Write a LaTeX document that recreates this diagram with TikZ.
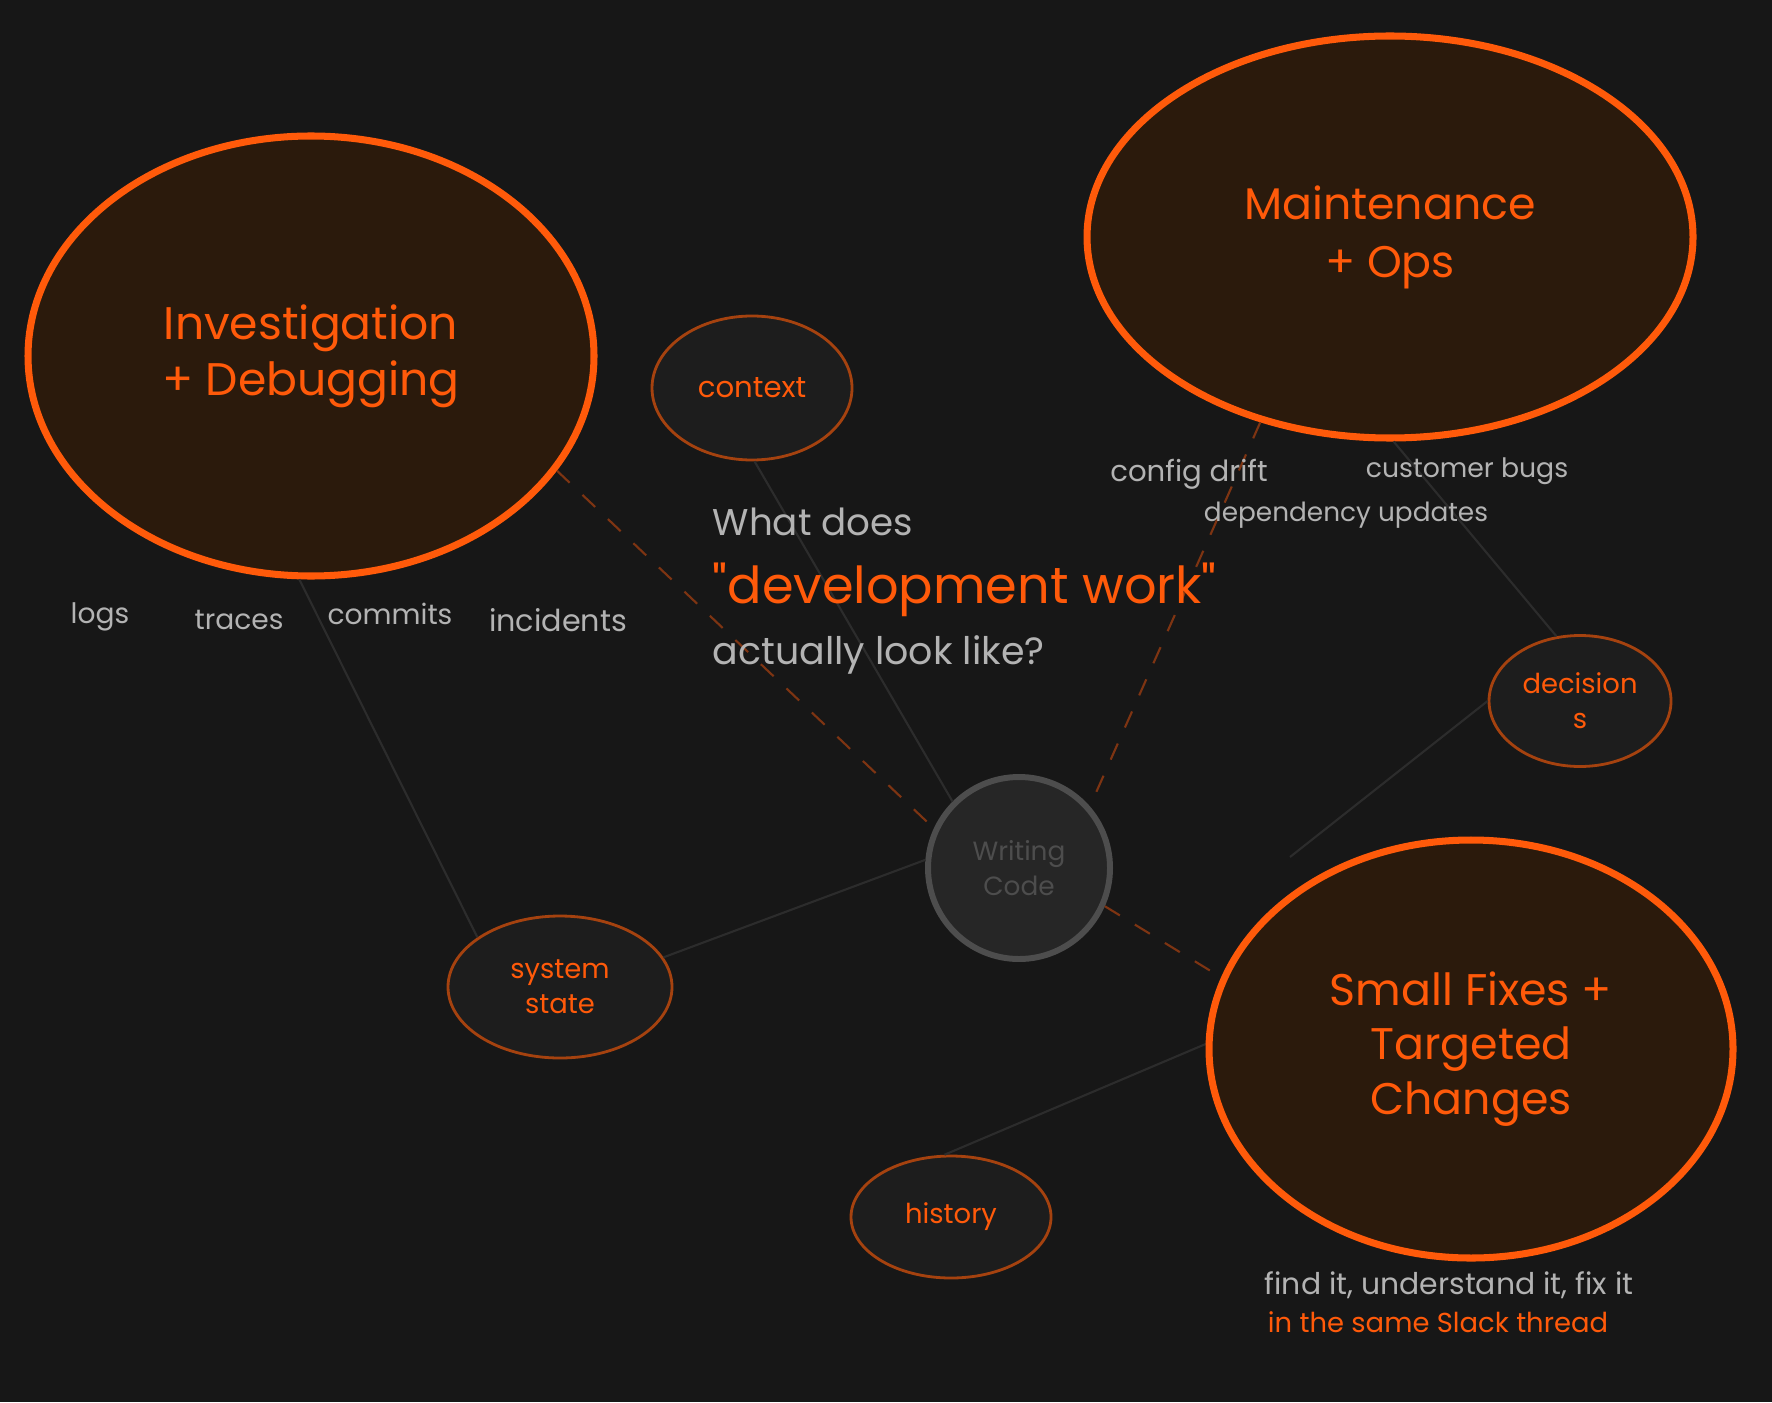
\documentclass[tikz,border=0pt]{standalone}
\usepackage{fontspec}
\setmainfont{Poppins}
\newfontfamily\rawpop{Poppins}
\usetikzlibrary{shapes.geometric}

\definecolor{night}{HTML}{171717}
\definecolor{flame}{HTML}{FF5A0A}
\definecolor{ember}{HTML}{2B1A0C}
\definecolor{rust}{HTML}{A5420F}
\definecolor{pebble}{HTML}{1D1D1D}
\definecolor{chalk}{HTML}{B3B3B3}
\definecolor{smoke}{HTML}{4D4D4D}
\definecolor{slate}{HTML}{262626}
\definecolor{ghost}{HTML}{2C2C2C}
\definecolor{trail}{HTML}{7E3412}

\tikzset{
  blob/.style={ellipse, draw=flame, line width=2pt, fill=ember, text=flame, align=center,
    inner sep=0pt, font=\fontsize{13}{16}\selectfont},
  bubble/.style={ellipse, draw=rust, line width=0.8pt, fill=pebble, text=flame, align=center,
    inner sep=0pt, font=\fontsize{7.8}{10}\selectfont},
  note/.style={text=chalk, inner sep=0pt, font=\fontsize{8}{10}\selectfont},
  hint/.style={text=chalk, inner sep=0pt, font=\fontsize{7.8}{9}\selectfont},
  link/.style={draw=trail, line width=0.6pt, dash pattern=on 5pt off 5pt},
  faint/.style={draw=ghost, line width=0.6pt}
}

\begin{document}
\begin{tikzpicture}[x=0.1mm, y=-0.1mm]
	\fill[night] (0,0) rectangle (1772,1402);
	\useasboundingbox (0,0) rectangle (1772,1402);

	% faint links behind everything
	\coordinate (decEnd) at (1290,857);
	\coordinate (fixEdge) at (1208,1043);

	% the three big areas
	\node[blob, minimum width=56.6mm, minimum height=44mm] (inv) at (311,356) {Investigation\\+ Debugging};
	\node[blob, minimum width=60.6mm, minimum height=40.2mm, font=\fontsize{12.6}{16.5}\selectfont] (ops) at (1390,237) {Maintenance\\+ Ops};

	% small bubbles
	\node[bubble, minimum width=20mm, minimum height=14.4mm, font=\fontsize{8.3}{10}\selectfont] (ctx) at (752,388) {context};
	\node[bubble, minimum width=18.2mm, minimum height=13.1mm] (dec) at (1580,701) {decision\\s};
	\node[bubble, minimum width=22.4mm, minimum height=14.2mm] (sys) at (560,987) {system\\state};
	\node[bubble, minimum width=20mm, minimum height=12.2mm] (hist) at (951,1217) {history};

	% centre
	\node[circle, draw=smoke, line width=1.7pt, fill=slate, text=smoke, align=center, inner sep=0pt,
		minimum size=18.2mm, font=\fontsize{7.5}{10}\selectfont] (code) at (1019,868) {Writing\\Code};

	\draw[faint] (ctx.-88) -- (code.135);
	\draw[faint] (sys.16) -- (code.175);
	\draw[faint] (inv.-93) -- (sys.149);
	\draw[faint] (ops.-89) -- (dec.110);
	\draw[faint] (dec.180) -- (decEnd);
	\draw[faint] (hist.96) -- (fixEdge);

	\node[blob, minimum width=52.4mm, minimum height=41.8mm, font=\fontsize{12.6}{15.6}\selectfont] (fix) at (1471,1049) {Small Fixes +\\Targeted\\Changes};

	% dashed links into the centre
	\draw[link] (inv.-25) -- (code.155);
	\draw[link] (ops.235) -- (code.41);
	\draw[link] (code.-24) -- (fix.164);

	% labels round the areas
	\node[note] (logs) at (100,617) {logs};
	\node[note] (traces) at (239,620) {traces};
	\node[note] (commits) at (390,614) {commits};
	\node[note, font=\fontsize{8.6}{10}\selectfont] (incidents) at (558,620) {incidents};

	\node[note, font=\fontsize{8.3}{10}\selectfont] (drift) at (1189,474) {config drift};
	\node[note, font=\fontsize{7.6}{10}\selectfont] (bugs) at (1467,471) {customer bugs};
	\node[note, font=\fontsize{7.5}{10}\selectfont] (deps) at (1346,515) {dependency updates};

	\node[hint, font=\fontsize{8.5}{10}\selectfont] (find) at (1449,1285) {find it, understand it, fix it};
	\node[hint, text=flame] (slack) at (1438,1322) {in the same Slack thread};

	% the question
	\node[text=chalk, anchor=west, inner sep=0pt, font=\fontsize{10.6}{12}\selectfont] (what) at (712,522) {What does};
	\node[text=flame, anchor=west, inner sep=0pt, font=\rawpop\fontsize{14.5}{18}\selectfont] (devwork) at (712,590) {"development work"};
	\node[text=chalk, anchor=west, inner sep=0pt, font=\fontsize{10.8}{12}\selectfont] (actually) at (712,655) {actually look like?};
\end{tikzpicture}
\end{document}
